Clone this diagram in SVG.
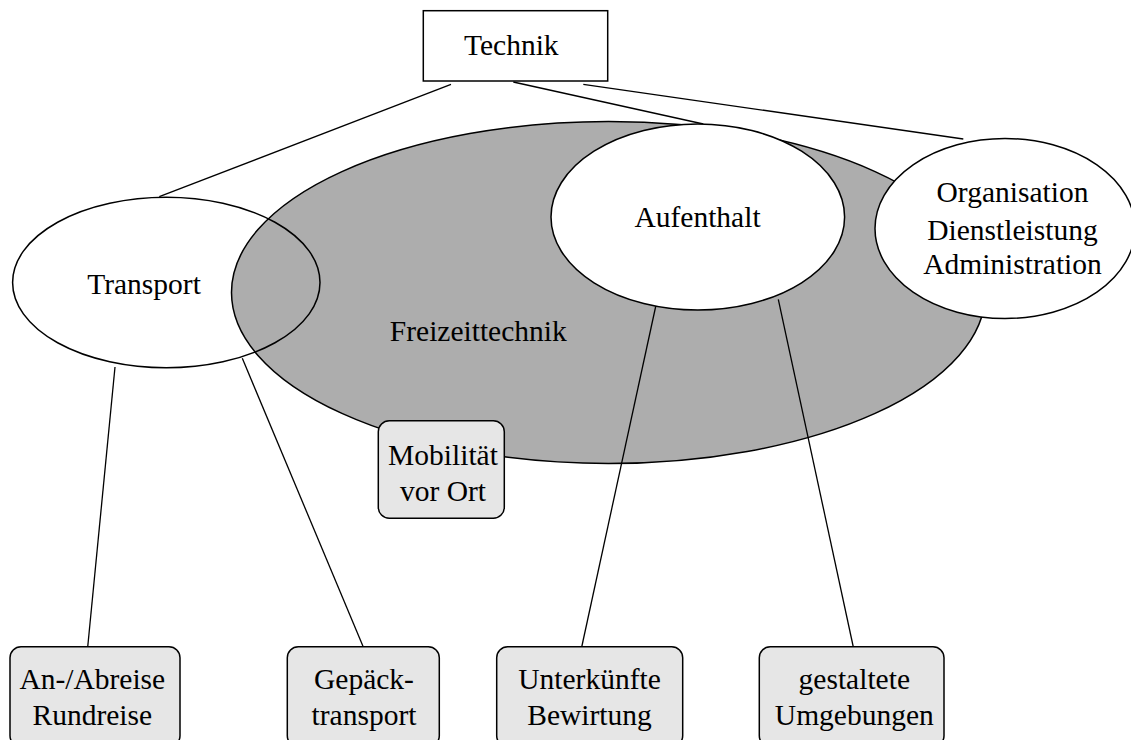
<svg xmlns="http://www.w3.org/2000/svg" width="1131" height="740" viewBox="0 0 1131 740">
<style>
text{font-family:"Liberation Serif","Times New Roman",serif;font-size:29.5px;fill:#000;text-anchor:middle}
.ln{stroke:#000;stroke-width:1.3;fill:none}
.ell{stroke:#000;stroke-width:1.5}
.box{fill:#e6e6e6;stroke:#000;stroke-width:1.5}
</style>
<rect width="1131" height="740" fill="#fff"/>
<g id="freizeittechnik">
<ellipse class="ell" cx="608.5" cy="292.5" rx="377" ry="171" fill="#adadad"/>
<text x="478.3" y="341">Freizeittechnik</text>
</g>
<g id="connectors">
<line class="ln" x1="451" y1="84.3" x2="159.3" y2="196.7"/>
<line class="ln" x1="513.3" y1="82" x2="703.3" y2="124"/>
<line class="ln" x1="583.3" y1="84.3" x2="963.3" y2="139"/>
<line class="ln" x1="115" y1="367" x2="87.7" y2="647"/>
<line class="ln" x1="242.3" y1="358.3" x2="363.3" y2="647"/>
<line class="ln" x1="656" y1="305" x2="581.7" y2="647"/>
<line class="ln" x1="778.3" y1="299.3" x2="853.3" y2="647"/>
</g>
<g id="technik">
<rect x="423.3" y="10.7" width="184.4" height="70.3" fill="#fff" stroke="#000" stroke-width="1.5"/>
<text x="511.3" y="55">Technik</text>
</g>
<g id="transport">
<ellipse class="ell" cx="166.3" cy="282.5" rx="153.7" ry="85.2" fill="none"/>
<text x="144" y="294.3">Transport</text>
</g>
<g id="aufenthalt">
<ellipse class="ell" cx="697.8" cy="217" rx="146.8" ry="93" fill="#fff"/>
<text x="697.5" y="226.7">Aufenthalt</text>
</g>
<g id="organisation">
<ellipse class="ell" cx="1005" cy="228.5" rx="130" ry="90" fill="#fff"/>
<text x="1012.5" y="201.7">Organisation</text>
<text x="1012.5" y="239.5">Dienstleistung</text>
<text x="1012.5" y="274">Administration</text>
</g>
<g id="mobilitaet">
<rect class="box" x="378.3" y="420.7" width="126" height="97.6" rx="11"/>
<text x="443" y="465">Mobilität</text>
<text x="443" y="500.7">vor Ort</text>
</g>
<g id="anabreise">
<rect class="box" x="10" y="646.7" width="170" height="100" rx="11"/>
<text x="92.3" y="689.3">An-/Abreise</text>
<text x="92.3" y="725">Rundreise</text>
</g>
<g id="gepaeck">
<rect class="box" x="287.3" y="646.7" width="152" height="100" rx="11"/>
<text x="364" y="689.3">Gepäck-</text>
<text x="364" y="725">transport</text>
</g>
<g id="unterkuenfte">
<rect class="box" x="496.7" y="646.7" width="186" height="100" rx="11"/>
<text x="589.5" y="689.3">Unterkünfte</text>
<text x="589.5" y="725">Bewirtung</text>
</g>
<g id="gestaltete">
<rect class="box" x="759.3" y="646.7" width="184.7" height="100" rx="11"/>
<text x="854.3" y="689.3">gestaltete</text>
<text x="854.3" y="725">Umgebungen</text>
</g>
</svg>
